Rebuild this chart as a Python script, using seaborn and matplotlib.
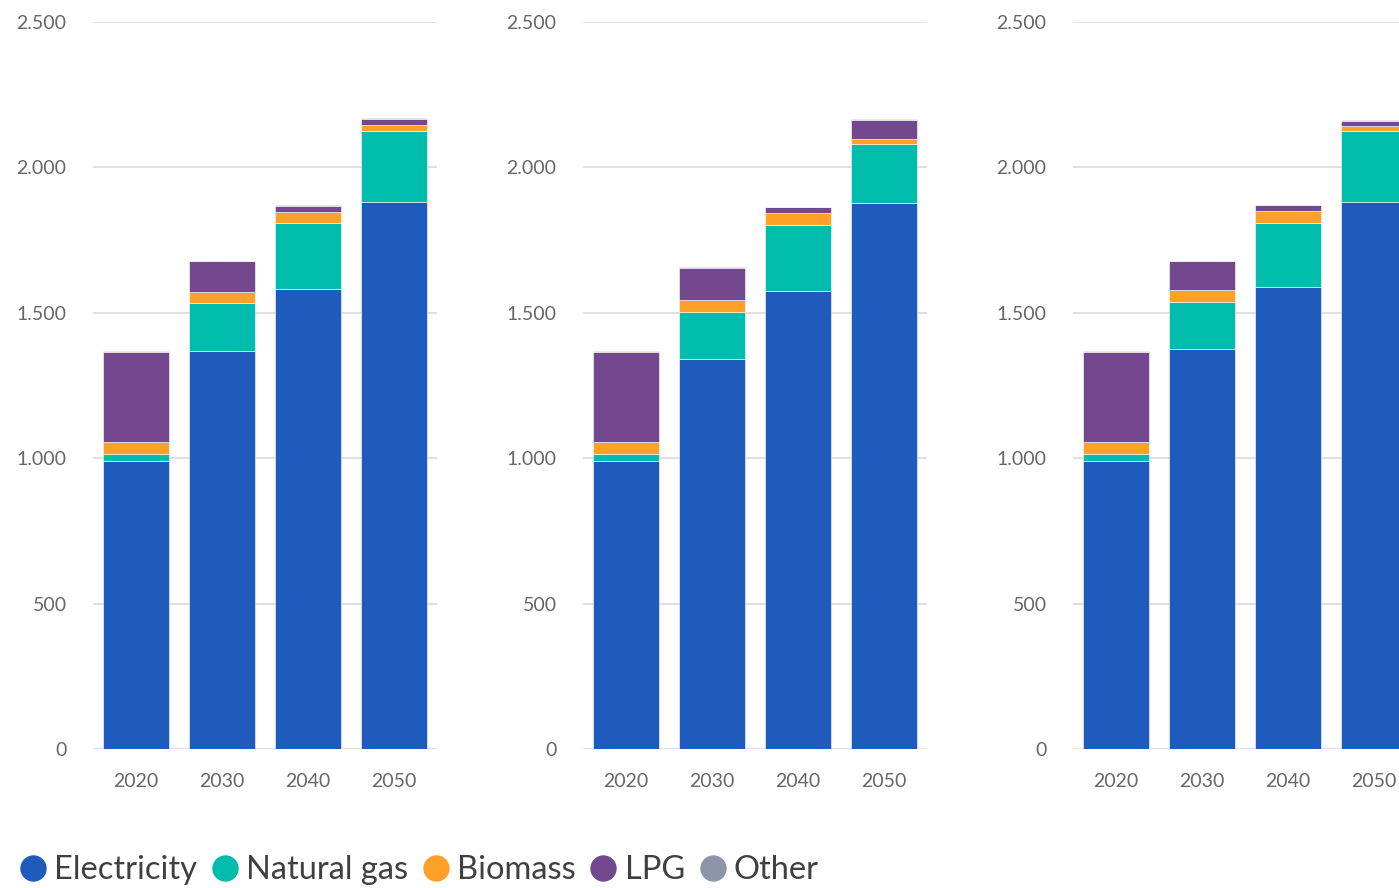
import numpy as np
import pandas as pd
import matplotlib.pyplot as plt
import seaborn as sns
from matplotlib.lines import Line2D
from matplotlib.ticker import FuncFormatter

years = ["2020", "2030", "2040", "2050"]
fuels = ["Electricity", "Natural gas", "Biomass", "LPG", "Other"]
colors = ["#1F5BBD", "#00BCAD", "#FFA028", "#73488F", "#8C96A8"]

# one list per fuel, one value per year, per scenario panel
elec_1 = [990, 1370, 1581, 1880]
gas_1 = [26, 165, 227, 246]
bio_1 = [40, 38, 40, 21]
lpg_1 = [308, 104, 20, 21]
other_1 = [3, 2, 1, 1]

elec_2 = [990, 1340, 1576, 1877]
gas_2 = [26, 164, 227, 205]
bio_2 = [40, 39, 40, 16]
lpg_2 = [308, 111, 21, 66]
other_2 = [3, 2, 1, 1]

elec_3 = [990, 1375, 1588, 1880]
gas_3 = [26, 163, 220, 246]
bio_3 = [40, 39, 42, 17]
lpg_3 = [308, 100, 20, 18]
other_3 = [3, 2, 1, 1]

panels = [
    [elec_1, gas_1, bio_1, lpg_1, other_1],
    [elec_2, gas_2, bio_2, lpg_2, other_2],
    [elec_3, gas_3, bio_3, lpg_3, other_3],
]

sns.set_theme(style="white")
plt.rcParams['font.family'] = ['Lato', 'DejaVu Sans']

W, H = 1399, 888
fig = plt.figure(figsize=(W / 100, H / 100), dpi=100)

fmt = FuncFormatter(lambda v, p: f"{int(v):,}".replace(",", "."))

for i, layers in enumerate(panels):
    left = 93 + 490 * i
    ax = fig.add_axes([left / W, (H - 749) / H, 344 / W, 727 / H])
    bottom = np.zeros(len(years))
    for fuel, vals, c in zip(fuels, layers, colors):
        df = pd.DataFrame({"year": years, "value": vals})
        sns.barplot(data=df, x="year", y="value", color=c, bottom=bottom,
                    width=0.77, saturation=1, edgecolor="white", linewidth=0.4,
                    ax=ax)
        bottom = bottom + np.array(vals)
    ax.set_ylim(0, 2500)
    ax.set_xlim(-0.5, 3.5)
    ax.set_yticks([0, 500, 1000, 1500, 2000, 2500])
    ax.yaxis.set_major_formatter(fmt)
    ax.grid(axis="y", color="#D9D9D9", linewidth=1.2)
    ax.set_axisbelow(True)
    for s in ax.spines.values():
        s.set_visible(False)
    ax.set_xlabel("")
    ax.set_ylabel("")
    ax.tick_params(axis="y", length=0, pad=19, labelsize=14, labelcolor="#666666")
    ax.tick_params(axis="x", length=0, pad=17, labelsize=14, labelcolor="#666666")

handles = [Line2D([], [], marker="o", linestyle="", markersize=19,
                  markerfacecolor=c, markeredgecolor="none") for c in colors]
fig.legend(handles, fuels, loc="lower left", bbox_to_anchor=(18 / W, 3 / H),
           ncol=5, frameon=False, fontsize=23.5, labelcolor="#404040",
           borderpad=0, borderaxespad=0,
           handletextpad=0.2, columnspacing=0.4, handlelength=0.9)

fig.savefig("out.png", dpi=100)
